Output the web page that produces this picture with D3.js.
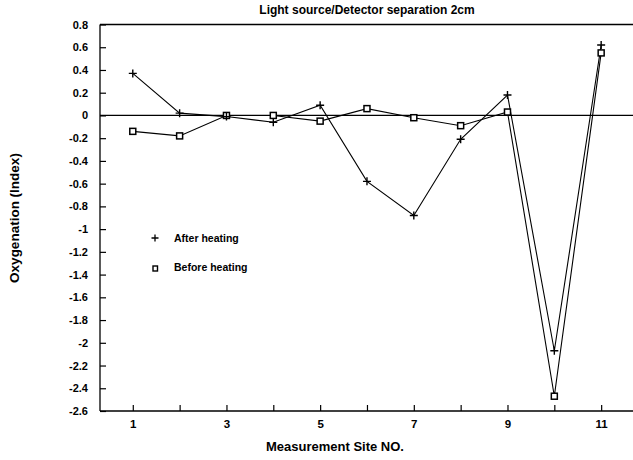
<!DOCTYPE html>
<html>
<head>
<meta charset="utf-8">
<script src="https://cdn.jsdelivr.net/npm/d3@7/dist/d3.min.js"></script>
<style>
  html, body { margin: 0; padding: 0; background: #fff; }
  svg { display: block; font-family: "Liberation Sans", Arial, sans-serif; }
</style>
</head>
<body>
<svg id="chart" width="633" height="460"></svg>
<script>
// Measurement sites along the x axis
const sites = [1, 2, 3, 4, 5, 6, 7, 8, 9, 10, 11];
// Oxygenation index at each site
const afterHeating  = [0.37, 0.02, -0.01, -0.06, 0.09, -0.58, -0.88, -0.21, 0.18, -2.07, 0.62];
const beforeHeating = [-0.14, -0.18, 0.00, 0.00, -0.05, 0.06, -0.02, -0.09, 0.03, -2.47, 0.55];
// Axis ticks
const xTicks = [1, 2, 3, 4, 5, 6, 7, 8, 9, 10, 11];
const xTickLabels = ["1", "", "3", "", "5", "", "7", "", "9", "", "11"];
const yTicks = [0.8, 0.6, 0.4, 0.2, 0, -0.2, -0.4, -0.6, -0.8, -1, -1.2, -1.4, -1.6, -1.8, -2, -2.2, -2.4, -2.6];

const svg = d3.select("#chart");
const plotLeft = 100, plotTop = 24.5, plotBottom = 411, plotRight = 648;

const x = d3.scaleLinear().domain([0.3, 12]).range([plotLeft, plotRight]);
const y = d3.scaleLinear().domain([-2.6, 0.8]).range([plotBottom, plotTop]);

// Frame: left, top and bottom edges (right edge runs past the page)
const frame = svg.append("g").attr("stroke", "#000").attr("fill", "none");
frame.append("line").attr("x1", plotLeft).attr("x2", plotLeft).attr("y1", plotTop).attr("y2", plotBottom).attr("stroke-width", 1.3);
frame.append("line").attr("x1", plotLeft).attr("x2", plotRight).attr("y1", plotTop).attr("y2", plotTop).attr("stroke-width", 1.6);
frame.append("line").attr("x1", plotLeft).attr("x2", plotRight).attr("y1", plotBottom).attr("y2", plotBottom).attr("stroke-width", 1.6);
// Zero reference line
frame.append("line").attr("x1", plotLeft).attr("x2", plotRight).attr("y1", y(0)).attr("y2", y(0)).attr("stroke-width", 1.3);

// Y axis: inward ticks, labels on the left
const yAxis = d3.axisLeft(y).tickValues(yTicks).tickSizeInner(-6).tickSizeOuter(0).tickPadding(12)
  .tickFormat(d => String(+d.toFixed(1)));
const gy = svg.append("g").attr("transform", `translate(${plotLeft},0)`).call(yAxis);
gy.select(".domain").remove();
gy.selectAll(".tick line").attr("stroke", "#000").attr("stroke-width", 1.2);
gy.selectAll(".tick text").attr("fill", "#000").attr("font-size", 11).attr("font-weight", "bold");

// X axis: inward ticks, labels below
const xAxis = d3.axisBottom(x).tickValues(xTicks).tickSizeInner(-6).tickSizeOuter(0).tickPadding(9)
  .tickFormat((d, i) => xTickLabels[i]);
const gx = svg.append("g").attr("transform", `translate(0,${plotBottom})`).call(xAxis);
gx.select(".domain").remove();
gx.selectAll(".tick line").attr("stroke", "#000").attr("stroke-width", 1.2);
gx.selectAll(".tick text").attr("fill", "#000").attr("font-size", 11.5).attr("font-weight", "bold");

// Series lines
const line = d3.line().x((d, i) => x(sites[i])).y(d => y(d));
svg.append("path").datum(beforeHeating).attr("d", line)
  .attr("fill", "none").attr("stroke", "#000").attr("stroke-width", 1.1);
svg.append("path").datum(afterHeating).attr("d", line)
  .attr("fill", "none").attr("stroke", "#000").attr("stroke-width", 1.1);

// Markers: squares for before heating, plus signs for after heating
svg.append("g").selectAll("rect").data(beforeHeating).join("rect")
  .attr("x", (d, i) => x(sites[i]) - 3).attr("y", d => y(d) - 3)
  .attr("width", 6).attr("height", 6)
  .attr("fill", "#fff").attr("stroke", "#000").attr("stroke-width", 1.5);
svg.append("g").selectAll("path").data(afterHeating).join("path")
  .attr("transform", (d, i) => `translate(${x(sites[i])},${y(d)})`)
  .attr("d", "M-4,0H4M0,-4V4")
  .attr("stroke", "#000").attr("stroke-width", 1.4).attr("fill", "none");

// Legend
const lg = svg.append("g");
lg.append("path").attr("transform", "translate(155,238)").attr("d", "M-3.5,0H3.5M0,-3.5V3.5")
  .attr("stroke", "#000").attr("stroke-width", 1.3);
lg.append("text").attr("x", 174).attr("y", 241.5).attr("font-size", 10.5).attr("font-weight", "bold").text("After heating");
lg.append("rect").attr("x", 153).attr("y", 266).attr("width", 4.5).attr("height", 5)
  .attr("fill", "#fff").attr("stroke", "#000").attr("stroke-width", 1.4);
lg.append("text").attr("x", 174).attr("y", 271).attr("font-size", 10.5).attr("font-weight", "bold").text("Before heating");

// Titles
svg.append("text").attr("x", 367).attr("y", 14).attr("text-anchor", "middle")
  .attr("font-size", 12).attr("font-weight", "bold").text("Light source/Detector separation 2cm");
svg.append("text").attr("x", 266).attr("y", 451)
  .attr("font-size", 13).attr("font-weight", "bold").text("Measurement Site NO.");
svg.append("text").attr("transform", "translate(19,218) rotate(-90)").attr("text-anchor", "middle")
  .attr("font-size", 13.5).attr("font-weight", "bold").text("Oxygenation (Index)");
</script>
</body>
</html>
